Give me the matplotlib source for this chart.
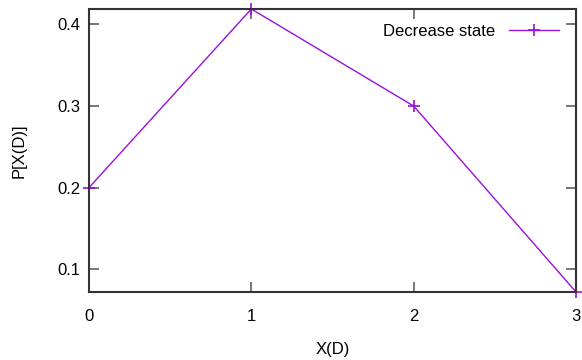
import matplotlib
matplotlib.use("Agg")
from matplotlib import pyplot as plt

x_vals = [0, 1, 2, 3]
p_vals = [0.2, 0.419, 0.3, 0.072]
x_ticks = [0, 1, 2, 3]
y_ticks = [0.1, 0.2, 0.3, 0.4]

plt.rcParams['font.family'] = ['Liberation Sans', 'DejaVu Sans']
plt.rcParams['font.size'] = 12

fig = plt.figure(figsize=(5.82, 3.6), dpi=100)
ax = fig.add_axes([89/582, 1 - 292/360, (576 - 89)/582, (292 - 9)/360])

ax.plot(x_vals, p_vals, color="#9a10dc", lw=1.0, marker="+", ms=9, mew=1.2,
        label="Decrease state", clip_on=False)

ax.set_xlim(min(x_vals), max(x_vals))
ax.set_ylim(min(p_vals), max(p_vals))
ax.set_xticks(x_ticks)
ax.set_yticks(y_ticks)
ax.set_xticklabels([str(t) for t in x_ticks])
ax.set_yticklabels([str(t) for t in y_ticks])

ax.tick_params(direction="in", length=7, width=1.2, color="#606060",
               top=True, right=True, labelsize=12)
ax.tick_params(axis="x", pad=12)
ax.tick_params(axis="y", pad=6)
for s in ax.spines.values():
    s.set_linewidth(1.5)
    s.set_color("#333333")

ax.set_xlabel("X(D)", fontsize=12, labelpad=13)
ax.set_ylabel("P[X(D)]", fontsize=12, labelpad=22)

ax.legend(loc="upper right", frameon=False, markerfirst=False,
          handlelength=3.0, borderaxespad=0.4, borderpad=0.5,
          bbox_to_anchor=(0.995, 1.0), fontsize=12)

fig.savefig("out.png", dpi=100)
